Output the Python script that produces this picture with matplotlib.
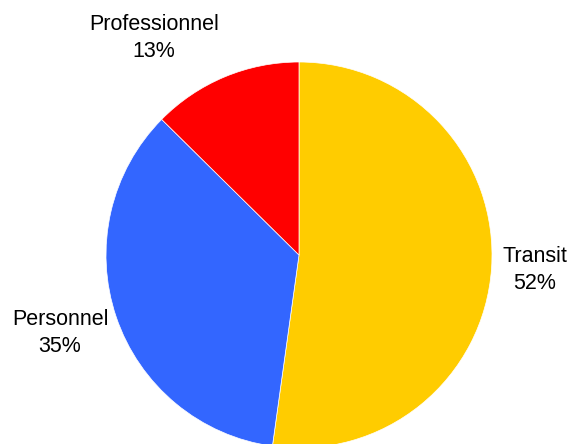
import matplotlib
matplotlib.use("Agg")
import matplotlib.pyplot as plt

categories = ["Transit", "Personnel", "Professionnel"]
values = [52.2, 35.2, 12.6]
colors = ["#FFCC00", "#3366FF", "#FF0000"]

plt.rcParams['font.family'] = ['Liberation Sans', 'DejaVu Sans']

fig = plt.figure(figsize=(5.74, 4.44), dpi=100)
ax = fig.add_axes([0, 0, 1, 1])

cx, cy, r = 299, 444 - 255, 193
ax.pie(values, colors=colors, startangle=90, counterclock=False,
       center=(cx, cy), radius=r, frame=True,
       wedgeprops=dict(edgecolor='white', linewidth=0.5))
ax.set_xlim(0, 574)
ax.set_ylim(0, 444)
ax.set_aspect('equal')
ax.axis('off')

label_pos = {"Transit": (535, 270), "Personnel": (60, 333), "Professionnel": (154, 38)}
for c, v in zip(categories, values):
    x, y = label_pos[c]
    ax.text(x, 444 - y, f"{c}\n{round(v):d}%", ha='center', va='center', fontsize=15.5,
            linespacing=1.4, color='black')

fig.savefig("out.png", dpi=100)
